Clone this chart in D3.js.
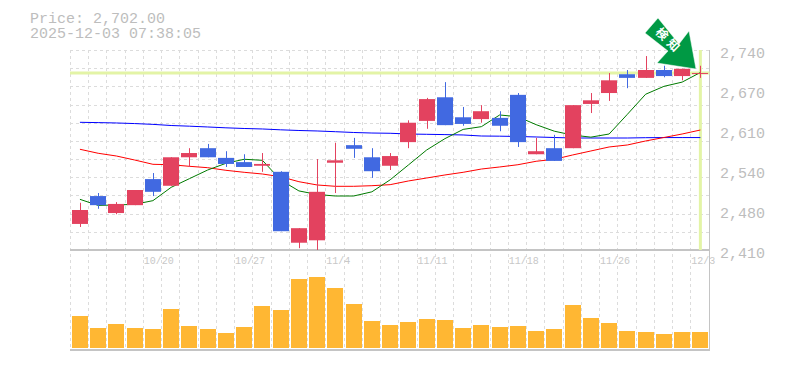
<!DOCTYPE html>
<html>
<head>
<meta charset="utf-8">
<script src="https://cdn.jsdelivr.net/npm/d3@7"></script>
<style>
html, body { margin: 0; padding: 0; background: #fff; }
svg { display: block; }
text { font-family: "Liberation Mono", monospace; fill: #bdbdbd; }
</style>
</head>
<body>
<svg id="chart" width="785" height="370"></svg>
<script>
// daily candles
var dates = ["10/14","10/15","10/16","10/17","10/20","10/21","10/22","10/23","10/24","10/27","10/28","10/29","10/30","10/31","11/4","11/5","11/6","11/7","11/10","11/11","11/12","11/13","11/14","11/17","11/18","11/19","11/20","11/21","11/25","11/26","11/27","11/28","12/1","12/2","12/3"];
var opens = [2453,2499,2471,2484,2527,2516,2563,2578,2562,2555,2549,2539,2422,2426,2554,2583,2563,2549,2588,2623,2662,2629,2626,2628,2666,2568,2578,2578,2651,2669,2700,2694,2707,2697,2701];
var closes = [2476,2484,2486,2509,2506,2563,2570,2563,2552,2547,2552,2441,2446,2506,2558,2577,2540,2565,2620,2659,2616,2618,2639,2615,2588,2573,2557,2649,2657,2690,2694,2707,2697,2709,2702];
var highs = [2488,2504,2489,2509,2537,2563,2578,2585,2573,2568,2570,2540,2446,2560,2587,2595,2578,2570,2624,2661,2687,2646,2649,2639,2669,2595,2600,2649,2669,2702,2707,2730,2714,2709,2714];
var lows = [2448,2478,2469,2484,2499,2516,2547,2563,2547,2547,2539,2441,2413,2410,2504,2562,2529,2542,2578,2610,2616,2615,2620,2606,2580,2568,2557,2578,2636,2656,2677,2694,2695,2690,2694];
var volumes = [32,20,24,20,19,39,22,19,15,21,42,38,69,71,60,44,27,23,26,29,28,20,23,21,22,17,19,43,30,25,17,16,14,16,16];

// moving averages
var maShort = [2493.6,2483.6,2484.3,2485.4,2491.4,2513.4,2527.7,2542,2553,2559.7,2558,2525.5,2507.5,2501.6,2499.1,2499.1,2506,2525.8,2550.3,2575,2593.7,2609,2613.5,2632.8,2629.9,2616.8,2606,2599.6,2596.2,2601.4,2633.9,2667,2680,2687,2702.9];
var maMid = [2576.2,2569.6,2565.1,2558.5,2551.4,2550.7,2548.1,2545.8,2541.5,2538.2,2535.4,2530.9,2522.7,2517.3,2515.1,2515.1,2516.1,2517.8,2523.9,2528.8,2533.8,2538.2,2543.6,2547,2550.7,2556.4,2559.7,2566.8,2573.4,2580,2583.3,2589.9,2595.6,2601.4,2608];
var maLong = [2620.7,2620.2,2619.6,2618.6,2617.3,2615.4,2614.3,2613,2611.6,2610.5,2609.7,2608.3,2607.2,2606.4,2605.2,2603.9,2603,2602.6,2601.4,2600.9,2600.4,2599.8,2598.1,2597.8,2597.3,2596.5,2595.6,2594.8,2594.8,2594.8,2594.8,2595.3,2595.5,2595.5,2595.5];

var priceTicks = [2740,2674,2608,2542,2476,2410];
var dateLabels = ["10/20","10/27","11/4","11/11","11/18","11/26","12/3"];
var lastPrice = 2702;
var priceText = "Price: 2,702.00";
var timeText = "2025-12-03 07:38:05";

var svg = d3.select("#chart");
var plotLeft = 70.8, plotRight = 709.5, plotTop = 50, plotMid = 250, plotBottom = 350;

var x = d3.scaleBand().domain(dates).range([plotLeft, plotRight]);
var y = d3.scaleLinear().domain([2410, 2740]).range([plotMid, plotTop]);
var v = d3.scaleLinear().domain([0, 71]).range([348, 277]);
var cx = function(d) { return x(d) + x.bandwidth() / 2; };

//--------------------------GRID------------------------------------------------
var grid = svg.append("g")
    .attr("stroke", "#dcdcdc")
    .attr("stroke-dasharray", "3,3")
    .attr("shape-rendering", "crispEdges");
grid.selectAll(".vgrid")
    .data(dates)
    .enter().append("line")
    .attr("x1", function(d) { return Math.round(x(d)) - 0.5; })
    .attr("x2", function(d) { return Math.round(x(d)) - 0.5; })
    .attr("y1", plotTop)
    .attr("y2", plotBottom);
grid.selectAll(".hgrid")
    .data(d3.range(0, 11))
    .enter().append("line")
    .attr("x1", 70)
    .attr("x2", plotRight)
    .attr("y1", function(d) { return Math.round(plotTop + d * (plotMid - plotTop) / 11) + 0.5; })
    .attr("y2", function(d) { return Math.round(plotTop + d * (plotMid - plotTop) / 11) + 0.5; });

// frame
var frame = svg.append("g")
    .attr("stroke", "#c4c4c4")
    .attr("stroke-width", 1.5)
    .attr("shape-rendering", "crispEdges");
frame.append("line").attr("x1", 70).attr("x2", plotRight).attr("y1", plotMid).attr("y2", plotMid);
frame.append("line").attr("x1", 70).attr("x2", plotRight).attr("y1", plotBottom).attr("y2", plotBottom);
frame.append("line").attr("x1", plotRight).attr("x2", plotRight).attr("y1", plotTop).attr("y2", plotBottom);

//--------------------------LAST PRICE------------------------------------------
svg.append("line")
    .attr("x1", 70).attr("x2", plotRight)
    .attr("y1", y(lastPrice)).attr("y2", y(lastPrice))
    .attr("stroke", "#e3f4a6").attr("stroke-width", 3);
svg.append("line")
    .attr("x1", cx(dates[dates.length - 1])).attr("x2", cx(dates[dates.length - 1]))
    .attr("y1", plotTop).attr("y2", plotMid)
    .attr("stroke", "#e3f4a6").attr("stroke-width", 3);

//--------------------------MOVING AVERAGES-------------------------------------
var line = d3.line()
    .x(function(d, i) { return cx(dates[i]); })
    .y(function(d) { return y(d); });
[[maLong, "#0000ff"], [maMid, "#ff0000"], [maShort, "#007a00"]].forEach(function(s) {
    svg.append("path")
        .attr("d", line(s[0]))
        .attr("fill", "none")
        .attr("stroke", s[1])
        .attr("stroke-width", 1);
});

//--------------------------CANDLES---------------------------------------------
var upColor = "#e3425f", downColor = "#4169e1";
var candleColor = function(i) { return closes[i] >= opens[i] ? upColor : downColor; };
var candles = svg.append("g").selectAll(".candle")
    .data(dates)
    .enter().append("g");
candles.append("rect")
    .attr("x", function(d) { return Math.round(cx(d) - 8) + 8; })
    .attr("width", 1)
    .attr("y", function(d, i) { return y(highs[i]); })
    .attr("height", function(d, i) { return y(lows[i]) - y(highs[i]); })
    .attr("fill", function(d, i) { return candleColor(i); });
candles.append("rect")
    .attr("x", function(d) { return Math.round(cx(d) - 8); })
    .attr("width", 16)
    .attr("y", function(d, i) { return y(Math.max(opens[i], closes[i])); })
    .attr("height", function(d, i) { return Math.max(1, Math.abs(y(opens[i]) - y(closes[i]))); })
    .attr("fill", function(d, i) { return candleColor(i); });

//--------------------------VOLUME----------------------------------------------
svg.append("g").selectAll(".vol")
    .data(dates)
    .enter().append("rect")
    .attr("x", function(d) { return Math.round(cx(d) - 8); })
    .attr("width", 16)
    .attr("y", function(d, i) { return v(volumes[i]); })
    .attr("height", function(d, i) { return v(0) - v(volumes[i]); })
    .attr("fill", "#ffb733");

//--------------------------TEXT------------------------------------------------
svg.append("text").attr("x", 30).attr("y", 23).attr("font-size", 15).text(priceText);
svg.append("text").attr("x", 30).attr("y", 38).attr("font-size", 15).text(timeText);
svg.selectAll(".ptick")
    .data(priceTicks)
    .enter().append("text")
    .attr("x", 720)
    .attr("y", function(d) { return y(d) + 8; })
    .attr("font-size", 15)
    .text(function(d) { return d3.format(",")(Math.round(d / 10) * 10); });
svg.selectAll(".dtick")
    .data(dateLabels)
    .enter().append("text")
    .attr("x", function(d) { return x(d); })
    .attr("y", 264)
    .attr("font-size", 10)
    .style("fill", "#c8c8c8")
    .text(function(d) { return d; });

//--------------------------BADGE-----------------------------------------------
var badge = svg.append("g");
badge.append("path")
    .attr("d", "M645,33 L658,18 L679,44 L689,31 L696,69 L657,63 L668,51 Z")
    .attr("fill", "#009944")
    .attr("stroke", "#fff")
    .attr("stroke-width", 0.5);
badge.append("text")
    .attr("transform", "translate(666,44) rotate(45)")
    .attr("text-anchor", "middle")
    .attr("font-family", "Noto Sans CJK JP")
    .attr("font-size", 12)
    .attr("font-weight", "bold")
    .attr("letter-spacing", 4)
    .style("font-family", "'Noto Sans CJK JP'")
    .style("fill", "#fff")
    .text("検知");
</script>
</body>
</html>
